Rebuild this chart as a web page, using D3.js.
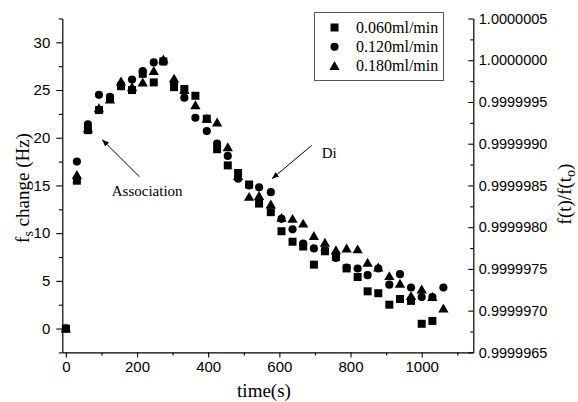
<!DOCTYPE html>
<html><head><meta charset="utf-8">
<script src="https://cdn.jsdelivr.net/npm/d3@7"></script>
<style>body{margin:0;background:#fff}svg{display:block}</style>
</head><body>
<svg id="c" width="578" height="402"></svg>
<script>
// ---- data ----
const times = [0,31,62,93,124,155,186,216,247,274,304,333,364,396,425,455,484,515,543,576,606,637,667,697,728,759,789,820,848,878,909,939,970,1000,1030,1061];
const series060 = [0,15.5,20.8,22.9,24.1,25.4,25.0,26.7,25.8,28.0,25.3,25.1,24.4,22.0,18.8,17.1,16.3,15.1,13.1,12.2,10.2,9.1,8.6,6.7,8.1,7.5,6.3,5.4,3.9,3.7,2.5,3.1,2.9,0.5,0.8,null];
const series120 = [0,17.5,21.4,24.5,24.3,25.5,26.1,27.0,27.9,28.0,25.8,24.2,22.1,20.7,19.4,18.1,15.7,15.0,14.8,14.3,11.5,10.4,8.9,8.4,8.2,7.4,6.4,6.3,5.6,6.3,4.6,5.7,4.3,3.3,3.3,4.3];
const series180 = [0,16.1,21.0,23.1,24.0,25.9,25.3,25.8,27.0,28.2,26.2,25.0,23.4,22.0,21.6,19.0,16.0,13.8,13.9,13.0,11.6,11.5,11.0,9.7,9.0,8.2,8.4,8.3,6.9,6.4,5.5,4.7,3.4,4.1,3.3,2.1];
const seriesNames = ["0.060ml/min","0.120ml/min","0.180ml/min"];
const xTicks = [0,200,400,600,800,1000];
const xMinor = [100,300,500,700,900,1100];
const yTicks = [0,5,10,15,20,25,30];
const yMinor = [-2.5,2.5,7.5,12.5,17.5,22.5,27.5,32.5];
const rTickLabels = ["0.9999965","0.9999970","0.9999975","0.9999980","0.9999985","0.9999990","0.9999995","1.0000000","1.0000005"];
const rMinorLabels = ["0.99999675","0.99999725","0.99999775","0.99999825","0.99999875","0.99999925","0.99999975","1.00000025"];
// annotations (data units)
const annAssoc = {tail:[207,15.9], tip:[102,19.8], text:"Association", tx:129, ty:13.9};
const annDi = {tail:[691,19.2], tip:[579,15.7], text:"Di", tx:719, ty:17.9};

// ---- layout ----
const svg = d3.select("#c");
const x = d3.scaleLinear().domain([-10,1145]).range([62.3,473.3]);
const y = d3.scaleLinear().domain([-2.5,32.5]).range([352.4,18.5]);
const yr = d3.scaleLinear().domain([0.9999965,1.0000005]).range([352.4,18.5]);
const sans = "'Liberation Sans', Arial, sans-serif";
const serif = "'Liberation Serif', 'Times New Roman', serif";

function styleAxis(g, fs){
  g.select(".domain").attr("stroke","#000").attr("stroke-width",1.2);
  g.selectAll(".tick line").attr("stroke","#000").attr("stroke-width",1.1);
  g.selectAll(".tick text").attr("font-family",sans).attr("font-size",fs).attr("fill","#000");
}
// x axis
const gx = svg.append("g").attr("transform",`translate(0,${y(-2.5)})`)
  .call(d3.axisBottom(x).tickValues(xTicks).tickSize(5).tickSizeOuter(0).tickPadding(4).tickFormat(d3.format("d")));
styleAxis(gx,"15px");
const gxm = svg.append("g").attr("transform",`translate(0,${y(-2.5)})`)
  .call(d3.axisBottom(x).tickValues(xMinor).tickSize(3).tickSizeOuter(0).tickFormat(""));
gxm.select(".domain").remove(); gxm.selectAll(".tick line").attr("stroke","#000").attr("stroke-width",1.1);
// left axis
const gy = svg.append("g").attr("transform",`translate(${x(-10)},0)`)
  .call(d3.axisLeft(y).tickValues(yTicks).tickSize(6).tickSizeOuter(0).tickPadding(6));
styleAxis(gy,"15px");
const gym = svg.append("g").attr("transform",`translate(${x(-10)},0)`)
  .call(d3.axisLeft(y).tickValues(yMinor).tickSize(3.5).tickSizeOuter(0).tickFormat(""));
gym.select(".domain").remove(); gym.selectAll(".tick line").attr("stroke","#000").attr("stroke-width",1.1);
// right axis (ticks inward)
const gr = svg.append("g").attr("transform",`translate(${x(1145)},0)`)
  .call(d3.axisRight(yr).tickValues(rTickLabels.map(Number)).tickSize(-5).tickSizeOuter(0).tickPadding(6)
    .tickFormat((d,i)=>rTickLabels[i]));
styleAxis(gr,"14.5px");
gr.selectAll(".tick text").attr("x",5.5);
const grm = svg.append("g").attr("transform",`translate(${x(1145)},0)`)
  .call(d3.axisRight(yr).tickValues(rMinorLabels.map(Number)).tickSize(-3).tickSizeOuter(0).tickFormat(""));
grm.select(".domain").remove(); grm.selectAll(".tick line").attr("stroke","#000").attr("stroke-width",1.1);

// axis titles
svg.append("text").attr("x",264).attr("y",397).attr("text-anchor","middle")
  .attr("font-family",serif).attr("font-size","19px").text("time(s)");
const lt = svg.append("text").attr("transform","translate(29,188) rotate(-90)").attr("text-anchor","middle")
  .attr("font-family",serif).attr("font-size","19px");
lt.append("tspan").text("f");
lt.append("tspan").attr("font-size","14px").attr("dy",4).text("s");
lt.append("tspan").attr("dy",-4).text(" change (Hz)");
const rt = svg.append("text").attr("transform","translate(571,194) rotate(-90)").attr("text-anchor","middle")
  .attr("font-family",serif).attr("font-size","19px");
rt.append("tspan").text("f(t)/f(t");
rt.append("tspan").attr("font-size","14px").attr("dy",4).text("o");
rt.append("tspan").attr("dy",-4).text(")");

// markers
const symbols = [d3.symbolSquare, d3.symbolCircle, d3.symbolTriangle];
const sizes = [64, 52, 46];
const allSeries = [series060, series120, series180];
allSeries.forEach((vals,si)=>{
  const pts = times.map((t,i)=>({t, v:vals[i]})).filter(d=>d.v!=null);
  svg.append("g").selectAll("path").data(pts).join("path")
    .attr("d", d3.symbol().type(symbols[si]).size(sizes[si]))
    .attr("transform", d=>`translate(${x(d.t)},${y(d.v)+(si===2?1:0)})`)
    .attr("fill","#000");
});

// legend
const lg = svg.append("g");
lg.append("rect").attr("x",314.5).attr("y",12.5).attr("width",129).attr("height",68)
  .attr("fill","#fff").attr("stroke","#555").attr("stroke-width",1);
seriesNames.forEach((n,i)=>{
  const cy = 27.5 + i*19.2;
  lg.append("path").attr("d", d3.symbol().type(symbols[i]).size(sizes[i]))
    .attr("transform",`translate(334.5,${cy+(i===2?1:0)})`).attr("fill","#000");
  lg.append("text").attr("x",356).attr("y",cy+5.5).attr("font-family",serif).attr("font-size","16px").text(n);
});

// annotations
svg.append("defs").append("marker").attr("id","ah").attr("viewBox","0 0 10 10").attr("refX",10).attr("refY",5)
  .attr("markerWidth",7).attr("markerHeight",7).attr("orient","auto-start-reverse").attr("markerUnits","userSpaceOnUse")
  .append("path").attr("d","M0,1 L10,5 L0,9 Z").attr("fill","#000");
[annAssoc, annDi].forEach(a=>{
  svg.append("line").attr("x1",x(a.tail[0])).attr("y1",y(a.tail[1])).attr("x2",x(a.tip[0])).attr("y2",y(a.tip[1]))
    .attr("stroke","#000").attr("stroke-width",1).attr("marker-end","url(#ah)");
  svg.append("text").attr("x",x(a.tx)).attr("y",y(a.ty)).attr("font-family",serif).attr("font-size","15px").text(a.text);
});
</script>
</body></html>
